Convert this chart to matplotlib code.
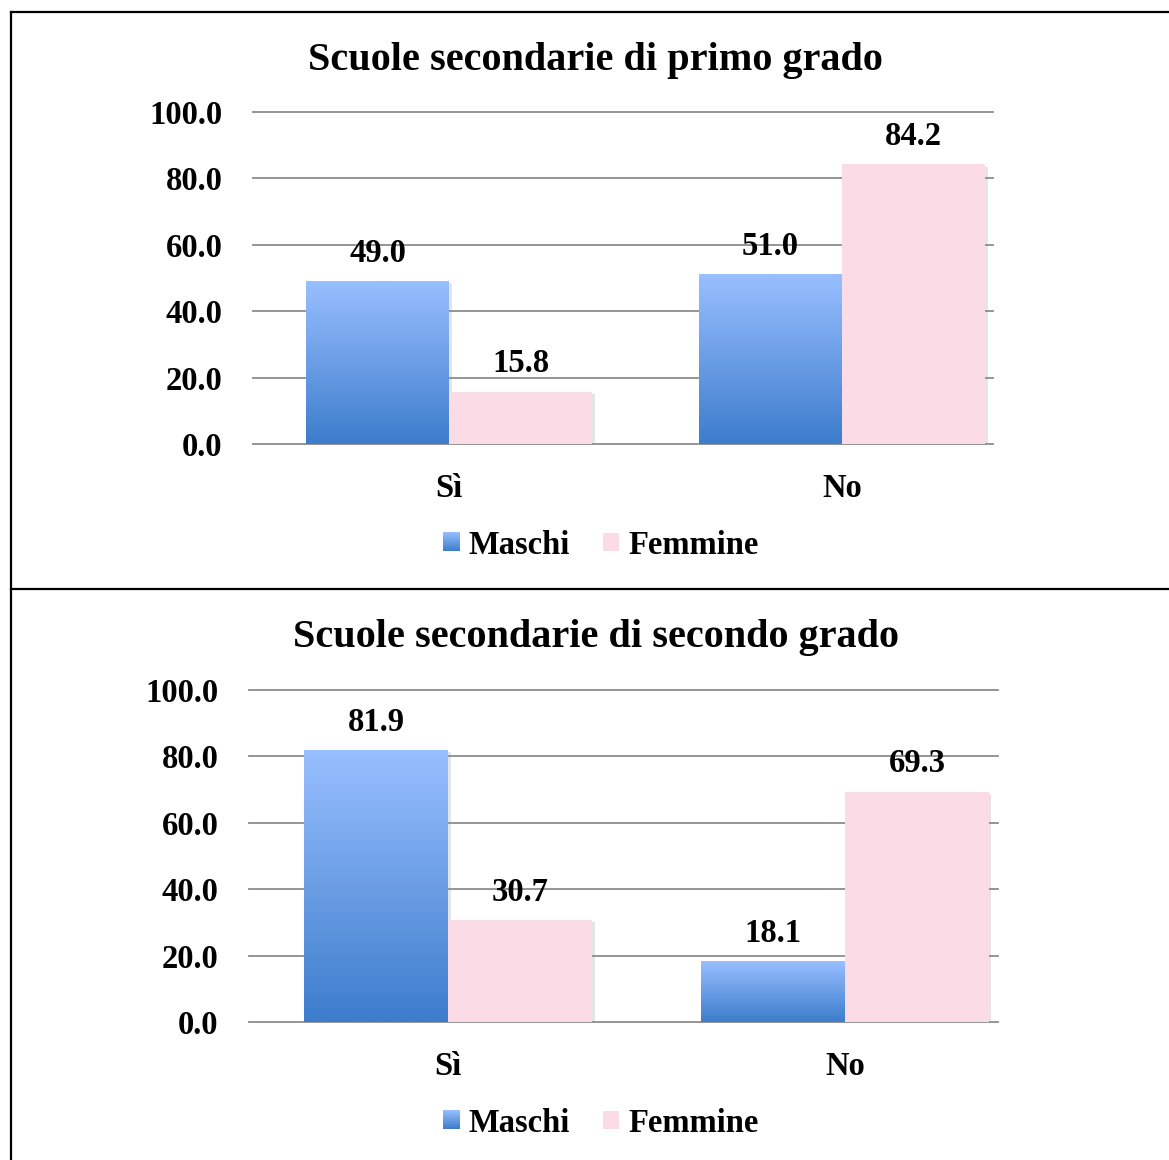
import numpy as np
import matplotlib
matplotlib.use("Agg")
import matplotlib.pyplot as plt
from matplotlib import patheffects
from matplotlib.lines import Line2D
from matplotlib.patches import Patch
from matplotlib.legend_handler import HandlerBase
from matplotlib.image import BboxImage
from matplotlib.transforms import Bbox, TransformedBbox
from matplotlib.colors import LinearSegmentedColormap

# --- data -------------------------------------------------------------
categories = ["Sì", "No"]
series_names = ["Maschi", "Femmine"]
titles = ["Scuole secondarie di primo grado",
          "Scuole secondarie di secondo grado"]
maschi_primo = [49.0, 51.0]
femmine_primo = [15.8, 84.2]
maschi_secondo = [81.9, 18.1]
femmine_secondo = [30.7, 69.3]
y_ticks = [0, 20, 40, 60, 80, 100]

# --- style ------------------------------------------------------------
FONT = "Liberation Serif"
plt.rcParams["font.family"] = [FONT, "DejaVu Serif"]
plt.rcParams["font.weight"] = "bold"
FS = 23.5
TITLE_FS = 29
BLUE_TOP = "#98BFFF"
BLUE_BOT = "#3D7DCC"
PINK = "#FBDCE6"
GRID = "#8C8C8C"
blue_cmap = LinearSegmentedColormap.from_list("blu", [BLUE_BOT, BLUE_TOP])

W, H = 1169, 1160
fig = plt.figure(figsize=(W / 100, H / 100), dpi=100)
fig.patch.set_facecolor("white")


def px_axes(left, right, top, bottom):
    return fig.add_axes([left / W, 1 - bottom / H, (right - left) / W, (bottom - top) / H])


shadow = [patheffects.SimplePatchShadow(offset=(1.8, -1.5), shadow_rgbFace="#8a8a8a", alpha=0.22),
          patheffects.Normal()]


class GradientHandler(HandlerBase):
    def create_artists(self, legend, orig_handle, xdescent, ydescent,
                       width, height, fontsize, trans):
        bb = TransformedBbox(Bbox.from_bounds(-xdescent, -ydescent, width, height), trans)
        img = BboxImage(bb, cmap=blue_cmap, interpolation="bilinear")
        img.set_data(np.linspace(1, 0, 64).reshape(-1, 1))
        img.set_clim(0, 1)
        return [img]


def draw_panel(ax, maschi, femmine, title, centers_px, bar_px, title_pos, legend_y):
    (sx, nx), (left, right) = centers_px
    scale = nx - sx
    width = bar_px / scale
    x = np.arange(len(categories))

    for t in y_ticks:
        ax.axhline(t, color=GRID, lw=1.3, zorder=0, clip_on=False)

    bars_m = ax.bar(x - width / 2, maschi, width, color=BLUE_BOT, zorder=2, linewidth=0)
    bars_f = ax.bar(x + width / 2, femmine, width, color=PINK, zorder=2, linewidth=0)
    for b in list(bars_m) + list(bars_f):
        b.set_path_effects(shadow)
    # vertical gradient fill, stretched over each blue bar's own height
    for b in bars_m:
        x0, w, h = b.get_x(), b.get_width(), b.get_height()
        ax.imshow(np.linspace(1, 0, 128).reshape(-1, 1), cmap=blue_cmap,
                  extent=(x0, x0 + w, 0, h), aspect="auto", zorder=3,
                  interpolation="bilinear", vmin=0, vmax=1)
    ax.set_xlim((left - sx) / scale, (right - sx) / scale)
    ax.set_ylim(0, 100)

    for bars in (bars_m, bars_f):
        for b in bars:
            v = b.get_height()
            ax.annotate(f"{v:.1f}", (b.get_x() + b.get_width() / 2, v),
                        xytext=(0, 14), textcoords="offset points",
                        ha="center", va="baseline", fontsize=FS,
                        fontweight="bold", zorder=5)

    ax.set_yticks(y_ticks)
    ax.set_yticklabels([f"{t:.1f}" for t in y_ticks], fontsize=FS, fontweight="bold")
    ax.set_xticks(x)
    ax.set_xticklabels(categories, fontsize=FS, fontweight="bold")
    ax.tick_params(axis="y", length=0, pad=22)
    ax.tick_params(axis="x", length=0, pad=21)
    for s in ax.spines.values():
        s.set_visible(False)
    ax.patch.set_alpha(0)

    fig.text(title_pos[0] / W, 1 - title_pos[1] / H, title, ha="center",
             va="baseline", fontsize=TITLE_FS, fontweight="bold")

    handles = [Patch(facecolor=BLUE_BOT), Patch(facecolor=PINK, edgecolor="none")]
    fig.legend(handles, series_names, loc="center",
               bbox_to_anchor=(601 / W, 1 - legend_y / H), ncol=2, frameon=False,
               prop={"weight": "bold", "size": FS},
               handlelength=0.5, handleheight=0.5, handletextpad=0.3,
               columnspacing=1.0,
               handler_map={handles[0]: GradientHandler()})


ax1 = px_axes(253, 993, 112, 444)
draw_panel(ax1, maschi_primo, femmine_primo, titles[0],
           ((449, 842), (253, 993)), 143, (595, 70), 545)

ax2 = px_axes(249, 998, 690, 1022)
draw_panel(ax2, maschi_secondo, femmine_secondo, titles[1],
           ((448, 845), (249, 998)), 144, (596, 647), 1123)

# panel frames
for xs, ys in [((11, W), (12, 12)), ((11, 11), (12, H)), ((11, W), (589, 589))]:
    fig.add_artist(Line2D([x / W for x in xs], [1 - y / H for y in ys],
                          color="black", lw=1.6, transform=fig.transFigure))

fig.savefig("out.png", dpi=100)
